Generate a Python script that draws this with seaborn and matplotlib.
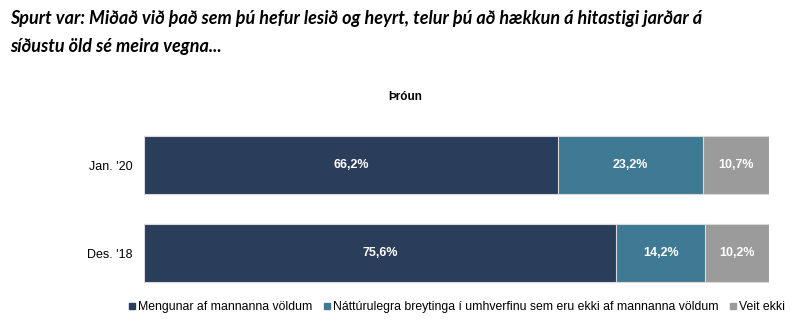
import matplotlib
matplotlib.use("Agg")
import matplotlib.pyplot as plt
import seaborn as sns
import numpy as np
import pandas as pd
from matplotlib.lines import Line2D

periods = ["Jan. '20", "Des. '18"]
series_names = ["Mengunar af mannanna völdum",
                "Náttúrulegra breytinga í umhverfinu sem eru ekki af mannanna völdum",
                "Veit ekki"]
mengun = [66.2, 75.6]
natt = [23.2, 14.2]
veit = [10.7, 10.2]
colors = ["#2a3d5a", "#3f7a94", "#9b9b9b"]

sns.set_theme(style="white")
plt.rcParams['font.family'] = ['Liberation Sans', 'DejaVu Sans']
plt.rcParams['text.color'] = 'black'
plt.rcParams['ytick.color'] = 'black'

fig = plt.figure(figsize=(8, 3.34), dpi=100)
ax = fig.add_axes([0.18, 0.1093, 0.781, 0.5284])

vals = [mengun, natt, veit]
cum = np.cumsum(np.array(vals), axis=0)
for i in range(2, -1, -1):
    df = pd.DataFrame({"period": periods, "value": cum[i]})
    sns.barplot(data=df, x="value", y="period", orient="h", color=colors[i],
                width=0.66, edgecolor="#d9d9d9", linewidth=0.8, ax=ax, saturation=1)

for j in range(len(periods)):
    left = 0
    for i in range(3):
        v = vals[i][j]
        ax.text(left + v / 2, j, f"{v:.1f}%".replace(".", ","), ha="center", va="center",
                color="white", fontsize=9, fontweight="bold")
        left += v

ax.set_xlim(0, 100)
ax.set_ylim(1.5, -0.5)
ax.set_xlabel("")
ax.set_ylabel("")
ax.set_xticks([])
ax.tick_params(axis="y", length=0, labelsize=9, pad=8, labelcolor="black")
for s in ax.spines.values():
    s.set_visible(False)

fig.text(0.0125, 0.945, "Spurt var: Miðað við það sem þú hefur lesið og heyrt, telur þú að hækkun á hitastigi jarðar á",
         fontsize=13, fontweight="bold", style="italic", family=["Lato", "DejaVu Sans"], va="center", color="black")
fig.text(0.0125, 0.86, "síðustu öld sé meira vegna...",
         fontsize=13, fontweight="bold", style="italic", family=["Lato", "DejaVu Sans"], va="center", color="black")
fig.text(0.507, 0.71, "Þróun", ha="center", va="center", fontsize=8.5, fontweight="bold", color="black")

handles = [Line2D([0], [0], marker="s", linestyle="", markersize=5, markerfacecolor=c, markeredgecolor=c)
           for c in colors]
fig.legend(handles, series_names, loc="center", bbox_to_anchor=(0.57, 0.08), ncol=3, frameon=False,
           fontsize=8.8, handletextpad=0.1, columnspacing=0.8, handlelength=0.8, labelcolor="black")

fig.savefig("out.png", dpi=100)
